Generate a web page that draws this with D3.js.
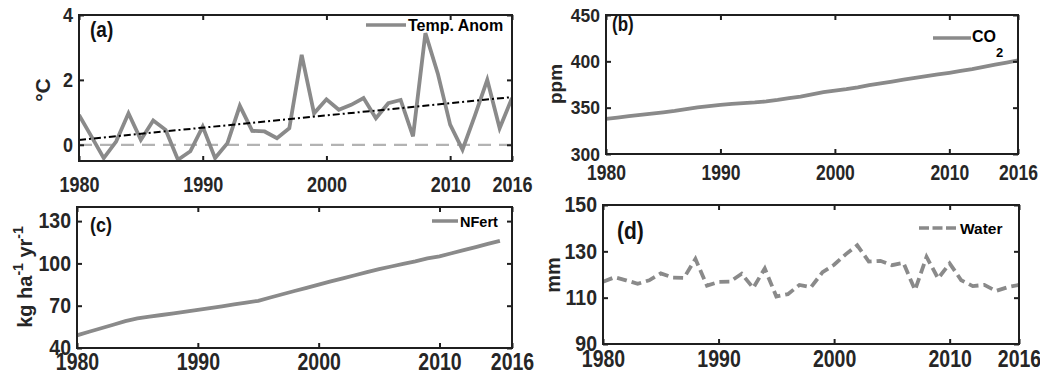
<!DOCTYPE html>
<html>
<head>
<meta charset="utf-8">
<script src="https://cdn.jsdelivr.net/npm/d3@7"></script>
<style>
  body { margin: 0; background: #fff; }
  text { font-family: "Liberation Sans", Arial, sans-serif; font-weight: bold; }
</style>
</head>
<body>
<div id="chart"></div>
<script>
// ---- data ----
const yearsA = d3.range(1980, 2016);   // 1980..2015
const yearsFull = d3.range(1980, 2017); // 1980..2016

const tempAnom = [0.92, 0.26, -0.41, 0.1, 0.97, 0.15, 0.75, 0.46, -0.46, -0.2,
                  0.56, -0.41, 0.05, 1.2, 0.43, 0.41, 0.2, 0.51, 2.77, 0.97,
                  1.4, 1.08, 1.23, 1.44, 0.82, 1.28, 1.38, 0.26, 3.44, 2.2,
                  0.62, -0.15, 0.9, 2.0, 0.51, 1.44];
const trendYears = [1980, 2015];
const trendValues = [0.15, 1.47];
const zeroLine = [0, 0];

const co2 = [338.0, 339.3, 340.8, 342.2, 343.6, 345.0, 346.5, 348.3, 350.2, 351.7,
             352.9, 354.0, 355.0, 355.7, 356.8, 358.4, 360.3, 362.0, 364.3, 366.8,
             368.4, 370.0, 372.0, 374.3, 376.2, 378.2, 380.2, 382.1, 384.0, 385.8,
             387.6, 389.6, 391.6, 394.0, 396.4, 398.6, 401.0];

const nFert = [49.0, 51.5, 54.0, 56.5, 59.0, 61.0, 62.2, 63.4, 64.6, 65.8,
               67.0, 68.3, 69.6, 70.9, 72.2, 73.5, 75.8, 78.1, 80.4, 82.7,
               85.0, 87.2, 89.4, 91.6, 93.8, 96.0, 97.8, 99.6, 101.4, 103.6,
               105.0, 107.2, 109.4, 111.6, 113.8, 116.0];

const water = [116.9, 118.8, 117.5, 116, 117.5, 120.5, 118.7, 118.5, 126.7, 115.2,
               116.8, 116.9, 120.3, 114.2, 122.6, 110.5, 111.5, 115.5, 114.5, 121,
               124.2, 128.7, 132.6, 125.6, 125.9, 124, 125, 113.3, 127.6, 118.3,
               124.8, 117.5, 115, 115.5, 112.9, 114.5, 115.5];

const xTicksA = [1980, 1990, 2000, 2010, 2015];
const xTickLabelsA = ["1980", "1990", "2000", "2010", "2016"];
const xTicks = [1980, 1990, 2000, 2010, 2016];
const yTicksA = [0, 2, 4];
const yTicksB = [300, 350, 400, 450];
const yTicksC = [40, 70, 100, 130];
const yTicksD = [90, 110, 130, 150];

const lineGray = "#8a8a8a";
const axisColor = "#1f1f1f";
const tickColor = "#262626";

const svg = d3.select("#chart").append("svg")
  .attr("width", 1040).attr("height", 376);
svg.append("rect").attr("width", 1040).attr("height", 376).attr("fill", "#fff");

// the reference text is drawn a bit taller than it is wide
function stretch(sel, k) {
  sel.each(function() {
    const t = d3.select(this);
    const x = +t.attr("x") || 0, y = +t.attr("y") || 0;
    t.attr("x", 0).attr("y", 0)
      .attr("transform", "translate(" + x + "," + y + ") scale(1," + k + ")");
  });
}

function drawPanel(p) {
  const x = d3.scaleLinear().domain(p.xDomain).range([p.left, p.right]);
  const y = d3.scaleLinear().domain(p.yDomain).range([p.bottom, p.top]);
  const g = svg.append("g");

  const clipId = "clip-" + p.id;
  g.append("clipPath").attr("id", clipId)
    .append("rect")
    .attr("x", p.left).attr("y", p.top)
    .attr("width", p.right - p.left).attr("height", p.bottom - p.top);

  const plot = g.append("g").attr("clip-path", "url(#" + clipId + ")");
  p.series.forEach(function(s) {
    const line = d3.line()
      .x(function(d, i) { return x(s.xs[i]); })
      .y(function(d) { return y(d); });
    plot.append("path")
      .datum(s.ys)
      .attr("d", line)
      .attr("fill", "none")
      .attr("stroke", s.color)
      .attr("stroke-width", s.width)
      .attr("stroke-dasharray", s.dash || null)
      .attr("stroke-linejoin", "miter");
  });

  // axes (ticks pointing inward on all four sides)
  const fmt = p.xLabels ? function(d, i) { return p.xLabels[i]; } : d3.format("d");
  const bottom = g.append("g").attr("transform", "translate(0," + p.bottom + ")")
    .call(d3.axisBottom(x).tickValues(p.xTicks).tickFormat(fmt)
      .tickSizeInner(-5).tickSizeOuter(0).tickPadding(p.xPad));
  const top = g.append("g").attr("transform", "translate(0," + p.top + ")")
    .call(d3.axisTop(x).tickValues(p.xTicks).tickFormat("")
      .tickSizeInner(-5).tickSizeOuter(0));
  const left = g.append("g").attr("transform", "translate(" + p.left + ",0)")
    .call(d3.axisLeft(y).tickValues(p.yTicks).tickFormat(d3.format("d"))
      .tickSizeInner(-5).tickSizeOuter(0).tickPadding(6));
  const right = g.append("g").attr("transform", "translate(" + p.right + ",0)")
    .call(d3.axisRight(y).tickValues(p.yTicks).tickFormat("")
      .tickSizeInner(-5).tickSizeOuter(0));

  [bottom, top, left, right].forEach(function(a) {
    a.select(".domain").remove();
    a.selectAll(".tick line").attr("stroke", axisColor).attr("stroke-width", 2);
    a.selectAll(".tick text")
      .attr("fill", tickColor)
      .style("font-size", p.tickFont + "px")
      .style("font-family", "'Liberation Sans', Arial, sans-serif")
      .style("font-weight", "bold");
  });
  stretch(bottom.selectAll(".tick text"), 1.25);
  stretch(left.selectAll(".tick text"), 1.1);

  g.append("rect")
    .attr("x", p.left).attr("y", p.top)
    .attr("width", p.right - p.left).attr("height", p.bottom - p.top)
    .attr("fill", "none").attr("stroke", axisColor).attr("stroke-width", 2);

  // panel tag
  g.append("text").attr("x", p.tag[0]).attr("y", p.tag[1])
    .style("font-size", p.tag[2] + "px").attr("fill", "#111").text(p.tagText)
    .call(stretch, 1.15);

  // y label
  const yl = g.append("text")
    .attr("transform", "translate(" + p.yLabelPos[0] + "," + p.yLabelPos[1] + ") rotate(-90)")
    .attr("text-anchor", "middle")
    .style("font-size", p.yLabelFont + "px")
    .attr("fill", tickColor);
  p.yLabel(yl);

  // legend
  const lg = p.legend;
  g.append("line")
    .attr("x1", lg.x1).attr("x2", lg.x2).attr("y1", lg.y).attr("y2", lg.y)
    .attr("stroke", lineGray).attr("stroke-width", 3.5)
    .attr("stroke-dasharray", lg.dash || null);
  const lt = g.append("text").attr("x", lg.tx).attr("y", lg.ty)
    .style("font-size", lg.font + "px").attr("fill", "#000");
  lg.label(lt);
}

drawPanel({
  id: "a", left: 79, right: 512, top: 15, bottom: 161,
  xDomain: [1980, 2015], yDomain: [-0.5, 4],
  xTicks: xTicksA, xLabels: xTickLabelsA, yTicks: yTicksA,
  xPad: 15, tickFont: 18,
  series: [
    { xs: trendYears, ys: zeroLine, color: "#b3b3b3", width: 2.2, dash: "13,8" },
    { xs: yearsA, ys: tempAnom, color: lineGray, width: 3.8 },
    { xs: trendYears, ys: trendValues, color: "#000", width: 2, dash: "7,3,2,3" }
  ],
  tag: [90, 37, 19], tagText: "(a)",
  yLabelPos: [50, 90], yLabelFont: 21,
  yLabel: function(t) { t.text("\u00B0C"); },
  legend: { x1: 366, x2: 406, y: 25, tx: 408, ty: 31, font: 16,
            label: function(t) { t.text("Temp. Anom"); } }
});

drawPanel({
  id: "b", left: 606, right: 1018, top: 15, bottom: 154,
  xDomain: [1980, 2016], yDomain: [300, 450],
  xTicks: xTicks, yTicks: yTicksB,
  xPad: 10, tickFont: 17.5,
  series: [{ xs: yearsFull, ys: co2, color: lineGray, width: 3.8 }],
  tag: [612, 31, 17], tagText: "(b)",
  yLabelPos: [562, 84], yLabelFont: 19,
  yLabel: function(t) { t.text("ppm"); },
  legend: { x1: 933, x2: 971, y: 38, tx: 972, ty: 42, font: 16,
            label: function(t) {
              t.append("tspan").text("CO");
              t.append("tspan").attr("dy", 15).style("font-size", "13px").text("2");
            } }
});

drawPanel({
  id: "c", left: 77, right: 512, top: 207, bottom: 348,
  xDomain: [1980, 2016], yDomain: [40, 140],
  xTicks: xTicks, yTicks: yTicksC,
  xPad: 5, tickFont: 19.5,
  series: [{ xs: yearsA, ys: nFert, color: lineGray, width: 3.8 }],
  tag: [90, 232, 18], tagText: "(c)",
  yLabelPos: [32, 277], yLabelFont: 20,
  yLabel: function(t) {
    t.append("tspan").text("kg ha");
    t.append("tspan").attr("dy", -9).style("font-size", "14px").text("-1");
    t.append("tspan").attr("dy", 9).text(" yr");
    t.append("tspan").attr("dy", -9).style("font-size", "14px").text("-1");
  },
  legend: { x1: 432, x2: 458, y: 221, tx: 460, ty: 227, font: 14.5,
            label: function(t) { t.text("NFert"); } }
});

drawPanel({
  id: "d", left: 603, right: 1019, top: 205, bottom: 344,
  xDomain: [1980, 2016], yDomain: [90, 150],
  xTicks: xTicks, yTicks: yTicksD,
  xPad: 6, tickFont: 19.5,
  series: [{ xs: yearsFull, ys: water, color: lineGray, width: 3.8, dash: "10,5" }],
  tag: [617, 239, 21], tagText: "(d)",
  yLabelPos: [560, 275], yLabelFont: 20,
  yLabel: function(t) { t.text("mm"); },
  legend: { x1: 919, x2: 958, y: 228, tx: 960, ty: 234, font: 15.5, dash: "10,3.5",
            label: function(t) { t.text("Water"); } }
});
</script>
</body>
</html>
